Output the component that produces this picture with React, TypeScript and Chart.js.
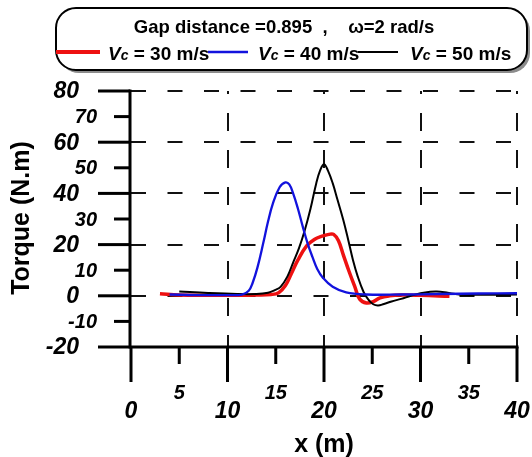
import React, { useEffect, useRef } from "react";
import { Chart, registerables } from "chart.js";

Chart.register(...registerables);

const FONT = "'Liberation Sans', Arial, Helvetica, sans-serif";

// ---- data ----
const redX = [3, 5, 8, 11, 13, 14.5, 15.3, 16, 16.6, 17.3, 18.2, 19, 19.8, 20.5, 21, 21.5, 22, 22.6, 23.2, 23.7, 24.4, 25.1, 25.8, 26.8, 28, 30, 33];
const redY = [0.8, 0.3, 0.2, 0.2, 0.3, 0.5, 1.2, 4, 8.5, 14, 19.5, 22, 23.3, 24, 24, 21.5, 16, 9.5, 3.5, -1.3, -2.8, -2.3, -0.8, 0, 0.3, 0.2, -0.2];

const blueX = [4, 7, 10, 11.5, 12.2, 12.6, 13.1, 13.7, 14.2, 14.7, 15.4, 16, 16.4, 16.8, 17.3, 17.8, 18.3, 18.8, 19.3, 19.9, 20.9, 22.3, 24.4, 28, 32, 36, 40];
const blueY = [0.5, 0.3, 0.3, 0.5, 2, 5, 11, 20.5, 29, 36, 42.4, 44.3, 43.5, 40, 34, 27, 20.5, 15.2, 10.5, 7, 3.5, 1.3, 0.5, 0.5, 0.7, 0.9, 1];

const blackX = [5, 8, 11, 13, 14.2, 14.9, 15.5, 16.2, 16.8, 17.4, 18, 18.6, 19.2, 19.6, 20, 20.4, 20.9, 21.4, 22, 22.5, 23, 23.5, 24.1, 24.6, 25.1, 25.6, 26.2, 27, 28, 29, 30, 31, 31.7, 32.5, 33.4, 34.5, 36, 40];
const blackY = [1.7, 1.1, 0.7, 0.7, 1.2, 2.2, 3.5, 7.5, 13, 18.5, 25.5, 34, 44, 49, 51.4, 49, 44, 37.5, 29.6, 22, 14, 7.5, 1.5, -1.5, -3.3, -3.8, -3.2, -2.2, -1.2, 0, 1, 1.6, 1.7, 1.4, 0.8, 0.4, 0.4, 0.5];

const seriesNames = ["30 m/s", "40 m/s", "50 m/s"];
const seriesColors = ["#ee1111", "#1212dd", "#000000"];

const yMajorTicks = [-20, 0, 20, 40, 60, 80];
const yMinorTicks = [-10, 10, 30, 50, 70];
const xMajorTicks = [0, 10, 20, 30, 40];
const xMinorTicks = [5, 15, 25, 35];

const titleText = "Gap distance =0.895  ,    \u03c9=2 rad/s";
const xTitle = "x (m)";
const yTitle = "Torque (N.m)";

function pts(xs: number[], ys: number[]) {
  return xs.map((x, i) => ({ x, y: ys[i] }));
}

function roundRect(ctx: CanvasRenderingContext2D, x: number, y: number, w: number, h: number, r: number) {
  ctx.beginPath();
  ctx.moveTo(x + r, y);
  ctx.lineTo(x + w - r, y);
  ctx.arcTo(x + w, y, x + w, y + r, r);
  ctx.lineTo(x + w, y + h - r);
  ctx.arcTo(x + w, y + h, x + w - r, y + h, r);
  ctx.lineTo(x + r, y + h);
  ctx.arcTo(x, y + h, x, y + h - r, r);
  ctx.lineTo(x, y + r);
  ctx.arcTo(x, y, x + r, y, r);
  ctx.closePath();
}

const decorPlugin = {
  id: "decor",
  afterDraw(chart: any) {
    const { ctx, chartArea: ca, scales } = chart;
    const xs = scales.x;
    const ys = scales.y;
    ctx.save();
    ctx.strokeStyle = "#000";
    ctx.fillStyle = "#000";
    ctx.lineCap = "butt";
    ctx.lineWidth = 3;
    const ax = ca.left - 1;
    const ay = ca.bottom;
    const seg = (x1: number, y1: number, x2: number, y2: number) => {
      ctx.beginPath();
      ctx.moveTo(x1, y1);
      ctx.lineTo(x2, y2);
      ctx.stroke();
    };
    // axis lines
    seg(ax, ys.getPixelForValue(80) - 1.5, ax, ay + 1.5);
    seg(ax, ay, xs.getPixelForValue(40) + 1.5, ay);
    // y ticks
    yMajorTicks.forEach((v) => {
      const p = ys.getPixelForValue(v);
      seg(ax - 32, p, ax, p);
    });
    yMinorTicks.forEach((v) => {
      const p = ys.getPixelForValue(v);
      seg(ax - 16, p, ax, p);
    });
    // x ticks
    xMajorTicks.forEach((v) => {
      const p = xs.getPixelForValue(v);
      seg(p, ay, p, ay + 35);
    });
    xMinorTicks.forEach((v) => {
      const p = xs.getPixelForValue(v);
      seg(p, ay, p, ay + 17);
    });
    // y labels
    ctx.textBaseline = "middle";
    ctx.textAlign = "right";
    ctx.font = `italic bold 23px ${FONT}`;
    yMajorTicks.forEach((v) => ctx.fillText(String(v), 79, ys.getPixelForValue(v) + 1));
    ctx.font = `italic bold 20px ${FONT}`;
    yMinorTicks.forEach((v) => ctx.fillText(String(v), 97, ys.getPixelForValue(v) + 1));
    // x labels
    ctx.textAlign = "center";
    ctx.font = `italic bold 23px ${FONT}`;
    xMajorTicks.forEach((v) => ctx.fillText(String(v), xs.getPixelForValue(v), 412));
    ctx.font = `italic bold 20px ${FONT}`;
    xMinorTicks.forEach((v) => ctx.fillText(String(v), xs.getPixelForValue(v), 393));
    // axis titles
    ctx.font = `bold 25px ${FONT}`;
    ctx.fillText(xTitle, xs.getPixelForValue(20), 445);
    ctx.save();
    ctx.translate(22, 218);
    ctx.rotate(-Math.PI / 2);
    ctx.fillText(yTitle, 0, 0);
    ctx.restore();

    // legend box
    const bx = 56, by = 8, bw = 471, bh = 62, r = 20;
    ctx.fillStyle = "#8c8c8c";
    roundRect(ctx, bx + 3, by + 3, bw, bh, r);
    ctx.fill();
    ctx.fillStyle = "#ffffff";
    roundRect(ctx, bx, by, bw, bh, r);
    ctx.fill();
    ctx.lineWidth = 2;
    ctx.strokeStyle = "#000";
    ctx.stroke();

    ctx.fillStyle = "#000";
    ctx.textAlign = "center";
    ctx.textBaseline = "alphabetic";
    ctx.font = `bold 18.5px ${FONT}`;
    ctx.fillText(titleText, 284, 33);

    const lineStarts = [56, 208, 358];
    const lineEnds = [100, 248, 398];
    const textStarts = [108, 258, 410];
    const lineWidths = [4, 2.5, 2];
    ctx.textAlign = "left";
    seriesNames.forEach((name, i) => {
      ctx.strokeStyle = seriesColors[i];
      ctx.lineWidth = lineWidths[i];
      seg(lineStarts[i], 52, lineEnds[i], 52);
      let tx = textStarts[i];
      ctx.fillStyle = "#000";
      ctx.font = `italic bold 19px ${FONT}`;
      ctx.fillText("V", tx, 60);
      tx += ctx.measureText("V").width;
      ctx.font = `italic bold 14px ${FONT}`;
      ctx.fillText("c", tx, 60);
      tx += ctx.measureText("c").width;
      ctx.font = `bold 19px ${FONT}`;
      ctx.fillText(" = " + name, tx, 60);
    });
    ctx.restore();
  },
};

export default function App() {
  const canvasRef = useRef<HTMLCanvasElement | null>(null);

  useEffect(() => {
    if (!canvasRef.current) return;
    const chart = new Chart(canvasRef.current, {
      type: "line",
      data: {
        datasets: [
          {
            label: seriesNames[0],
            data: pts(redX, redY),
            borderColor: seriesColors[0],
            borderWidth: 3.5,
            pointRadius: 0,
            tension: 0.4,
            order: 3,
          },
          {
            label: seriesNames[1],
            data: pts(blueX, blueY),
            borderColor: seriesColors[1],
            borderWidth: 2.3,
            pointRadius: 0,
            tension: 0.4,
            order: 1,
          },
          {
            label: seriesNames[2],
            data: pts(blackX, blackY),
            borderColor: seriesColors[2],
            borderWidth: 2,
            pointRadius: 0,
            tension: 0.4,
            order: 2,
          },
        ],
      },
      options: {
        animation: false,
        responsive: true,
        maintainAspectRatio: false,
        layout: { padding: { left: 131, right: 15, top: 91, bottom: 110 } },
        plugins: {
          legend: { display: false },
          tooltip: { enabled: false },
          title: { display: false },
        },
        scales: {
          x: {
            type: "linear",
            min: 0,
            max: 40,
            afterFit: (s: any) => {
              s.height = 0;
            },
            ticks: { display: false, stepSize: 10 },
            border: { display: false, dash: [18, 19], dashOffset: 15 },
            grid: {
              drawTicks: false,
              lineWidth: 2,
              color: (c: any) => (c.tick && c.tick.value !== 0 ? "#111111" : "rgba(0,0,0,0)"),
            },
          },
          y: {
            type: "linear",
            min: -20,
            max: 80,
            afterFit: (s: any) => {
              s.width = 0;
            },
            ticks: { display: false, stepSize: 20 },
            border: { display: false, dash: [15, 21.5], dashOffset: 0 },
            grid: {
              drawTicks: false,
              lineWidth: 2,
              color: (c: any) => (c.tick && c.tick.value !== -20 ? "#111111" : "rgba(0,0,0,0)"),
            },
          },
        },
      },
      plugins: [decorPlugin],
    } as any);
    return () => chart.destroy();
  }, []);

  return (
    <div style={{ position: "absolute", left: 0, top: 0, width: 532, height: 457, background: "#fff" }}>
      <canvas ref={canvasRef} />
    </div>
  );
}
